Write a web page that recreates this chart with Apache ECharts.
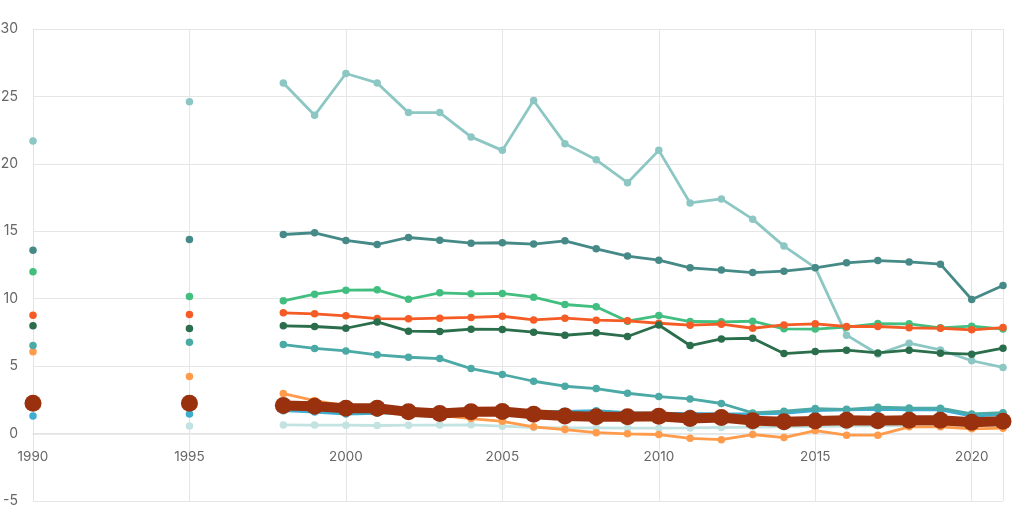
<!DOCTYPE html>
<html>
<head>
<meta charset="utf-8">
<script src="https://cdn.jsdelivr.net/npm/echarts@6/dist/echarts.min.js"></script>
<style>html,body{margin:0;padding:0;background:#fff}#c{width:1024px;height:512px}</style>
</head>
<body>
<div id="c"></div>
<script>
var n = null;
var years = [];
for (var y = 1990; y <= 2021; y++) years.push(y);

var lightTeal = [21.7, n,n,n,n, 24.6, n,n, 26.0, 23.6, 26.7, 26.0, 23.8, 23.8, 22.0, 21.0, 24.7, 21.5, 20.3, 18.6, 21.0, 17.1, 17.4, 15.9, 13.9, 12.3, 7.3, 5.9, 6.7, 6.2, 5.4, 4.9];
var darkTeal = [13.6, n,n,n,n, 14.4, n,n, 14.76, 14.89, 14.32, 14.02, 14.54, 14.34, 14.12, 14.15, 14.05, 14.29, 13.7, 13.16, 12.86, 12.29, 12.12, 11.94, 12.04, 12.29, 12.66, 12.83, 12.73, 12.56, 9.94, 10.98];
var green = [12.0, n,n,n,n, 10.16, n,n, 9.84, 10.34, 10.63, 10.66, 9.96, 10.44, 10.36, 10.39, 10.11, 9.57, 9.4, 8.33, 8.75, 8.31, 8.29, 8.33, 7.77, 7.75, 7.89, 8.16, 8.14, 7.84, 7.96, 7.75];
var red = [8.78, n,n,n,n, 8.83, n,n, 8.95, 8.88, 8.73, 8.53, 8.51, 8.56, 8.61, 8.7, 8.43, 8.56, 8.41, 8.36, 8.18, 8.04, 8.11, 7.81, 8.06, 8.14, 7.94, 7.94, 7.84, 7.81, 7.69, 7.86];
var darkGreen = [7.99, n,n,n,n, 7.79, n,n, 7.99, 7.94, 7.81, 8.28, 7.59, 7.57, 7.74, 7.72, 7.52, 7.29, 7.47, 7.2, 8.05, 6.53, 7.02, 7.07, 5.93, 6.08, 6.18, 5.98, 6.18, 5.96, 5.89, 6.33];
var teal = [6.53, n,n,n,n, 6.77, n,n, 6.6, 6.31, 6.13, 5.84, 5.66, 5.56, 4.82, 4.38, 3.88, 3.51, 3.34, 2.99, 2.74, 2.57, 2.23, 1.53, 1.66, 1.85, 1.8, 1.95, 1.9, 1.88, 1.46, 1.55];
var orange = [6.06, n,n,n,n, 4.23, n,n, 2.97, 2.45, 2.05, 1.8, 1.55, 1.35, 1.11, 0.91, 0.5, 0.3, 0.07, -0.02, -0.07, -0.35, -0.45, -0.07, -0.3, 0.22, -0.12, -0.12, 0.5, 0.5, 0.35, 0.4];
var blue = [1.31, n,n,n,n, 1.46, n,n, 1.7, 1.6, 1.45, 1.5, 1.55, 1.5, 1.55, 1.6, 1.6, 1.65, 1.7, 1.55, 1.5, 1.5, 1.45, 1.45, 1.5, 1.7, 1.75, 1.8, 1.75, 1.75, 1.3, 1.4];
var veryLight = [n, n,n,n,n, 0.57, n,n, 0.64, 0.63, 0.62, 0.6, 0.62, 0.63, 0.65, 0.55, 0.45, 0.42, 0.42, 0.4, 0.4, 0.42, 0.45, 0.48, 0.5, 0.52, 0.55, 0.58, 0.6, 0.62, 0.65, 0.68];
var darkRed = [2.25, n,n,n,n, 2.25, n,n, 2.08, 2.03, 1.88, 1.88, 1.61, 1.48, 1.61, 1.63, 1.43, 1.31, 1.24, 1.24, 1.29, 1.11, 1.19, 0.96, 0.87, 0.94, 0.99, 0.96, 0.99, 0.99, 0.84, 0.91];

function pairs(arr) {
  return years.map(function (yr, i) { return [yr, arr[i] === null ? '-' : arr[i]]; });
}
function line(arr, color, w, s) {
  return {
    type: 'line', data: pairs(arr), showSymbol: true, showAllSymbol: true,
    symbol: 'circle', symbolSize: s || 7.5,
    lineStyle: { color: color, width: w || 2.8 },
    itemStyle: { color: color },
    connectNulls: false
  };
}
var gridTop = 29, gridBottom = 11, H = 512;
var yMin = -5, yMax = 30;
var zeroOffset = -(0 - yMin) / (yMax - yMin) * (H - gridTop - gridBottom);

var chart = echarts.init(document.getElementById('c'));
chart.setOption({
  animation: false,
  grid: { left: 33, right: 21, top: gridTop, bottom: gridBottom, containLabel: false, outerBoundsMode: 'none' },
  textStyle: { fontFamily: 'Inter' },
  xAxis: {
    type: 'value', min: 1990, max: 2021, interval: 5,
    offset: zeroOffset,
    axisLine: { show: true, onZero: false, lineStyle: { color: '#e3e3e3', width: 1.5 } },
    axisTick: { show: false },
    axisLabel: { color: '#666', fontSize: 13.5, margin: 16, showMaxLabel: false,
      formatter: function (v) { return v % 5 === 0 ? String(v) : ''; } },
    splitLine: { show: true, lineStyle: { color: '#e6e6e6' } }
  },
  yAxis: {
    type: 'value', min: yMin, max: yMax, interval: 5,
    axisLine: { show: true, lineStyle: { color: '#e3e3e3' } },
    axisTick: { show: false },
    axisLabel: { color: '#666', fontSize: 14, margin: 15 },
    splitLine: { show: true, lineStyle: { color: '#e6e6e6' } }
  },
  series: [
    line(lightTeal, '#8cc7c4'),
    line(darkTeal, '#468a88'),
    line(green, '#42bf80'),
    line(red, '#f45b25'),
    line(darkGreen, '#2a6e4c'),
    line(veryLight, '#c2e3e1'),
    line(orange, '#ff9b4a'),
    line(blue, '#3eadd0'),
    line(teal, '#4ba9a6'),
    line(darkRed, '#9a310e', 10, 17)
  ]
});
</script>
</body>
</html>
